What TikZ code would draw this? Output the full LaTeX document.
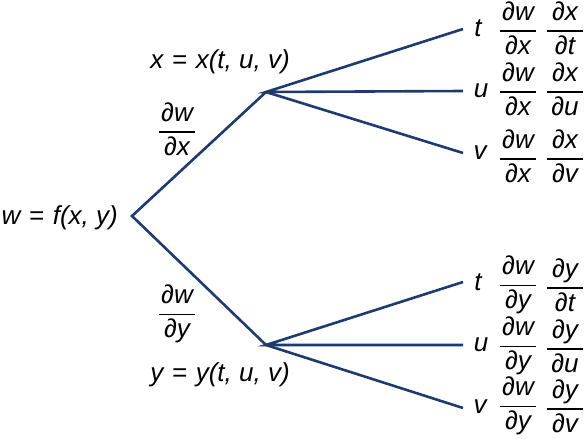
\documentclass[tikz,border=0pt]{standalone}
\usepackage{amsmath}
\usepackage{fontspec}
\setmainfont{Liberation Sans}
\definecolor{navy}{RGB}{30,58,110}
\newcommand{\pd}[2]{$\displaystyle\genfrac{}{}{1.3pt}{0}{\text{\makebox[36pt]{\itshape ∂#1}}}{\text{\makebox[36pt]{\itshape ∂#2}}}$}
\begin{document}
\begin{tikzpicture}[x=1pt,y=-1pt,
  every node/.style={font=\fontsize{26}{30}\selectfont\itshape, inner sep=0pt},
  branch/.style={draw=navy, line width=2.6pt, line join=miter}]
\useasboundingbox (0,0) rectangle (584,439);
% vertices
\coordinate (r) at (132,216);
\coordinate (a) at (266,92);
\coordinate (b) at (266,345);
\coordinate (at) at (463,29);
\coordinate (au) at (463,91);
\coordinate (av) at (463,153);
\coordinate (bt) at (463,282);
\coordinate (bu) at (463,345);
\coordinate (bv) at (463,408);
% branches
\draw[branch] (a) -- (r) -- (b);
\draw[branch] (at) -- (a) -- (au);
\draw[branch] (a) -- (av);
\draw[branch] (bt) -- (b) -- (bu);
\draw[branch] (b) -- (bv);
% labels
\node[anchor=east] (w) at (118,218) {w\,\,=\,\,f(x, y)};
\node (xl) at (220,62) {x\,\,=\,\,x(t, u, v)};
\node (yl) at (220,375) {y\,\,=\,\,y(t, u, v)};
\node (dx) at (177,129) {\pd{w}{x}};
\node (dy) at (177,314) {\pd{w}{y}};
% upper leaves
\node (t1) at (478,28) {t};
\node (u1) at (481,91) {u};
\node (v1) at (480,153) {v};
\node (f1a) at (518,28) {\pd{w}{x}};
\node (f1b) at (565,28) {\pd{x}{t}};
\node (f2a) at (518,89) {\pd{w}{x}};
\node (f2b) at (565,89) {\pd{x}{u}};
\node (f3a) at (518,156) {\pd{w}{x}};
\node (f3b) at (565,156) {\pd{x}{v}};
% lower leaves
\node (t2) at (478,282) {t};
\node (u2) at (481,345) {u};
\node (v2) at (480,407) {v};
\node (g1a) at (518,285) {\pd{w}{y}};
\node (g1b) at (565,285) {\pd{y}{t}};
\node (g2a) at (518,346) {\pd{w}{y}};
\node (g2b) at (565,346) {\pd{y}{u}};
\node (g3a) at (518,406) {\pd{w}{y}};
\node (g3b) at (565,406) {\pd{y}{v}};
\end{tikzpicture}
\end{document}
